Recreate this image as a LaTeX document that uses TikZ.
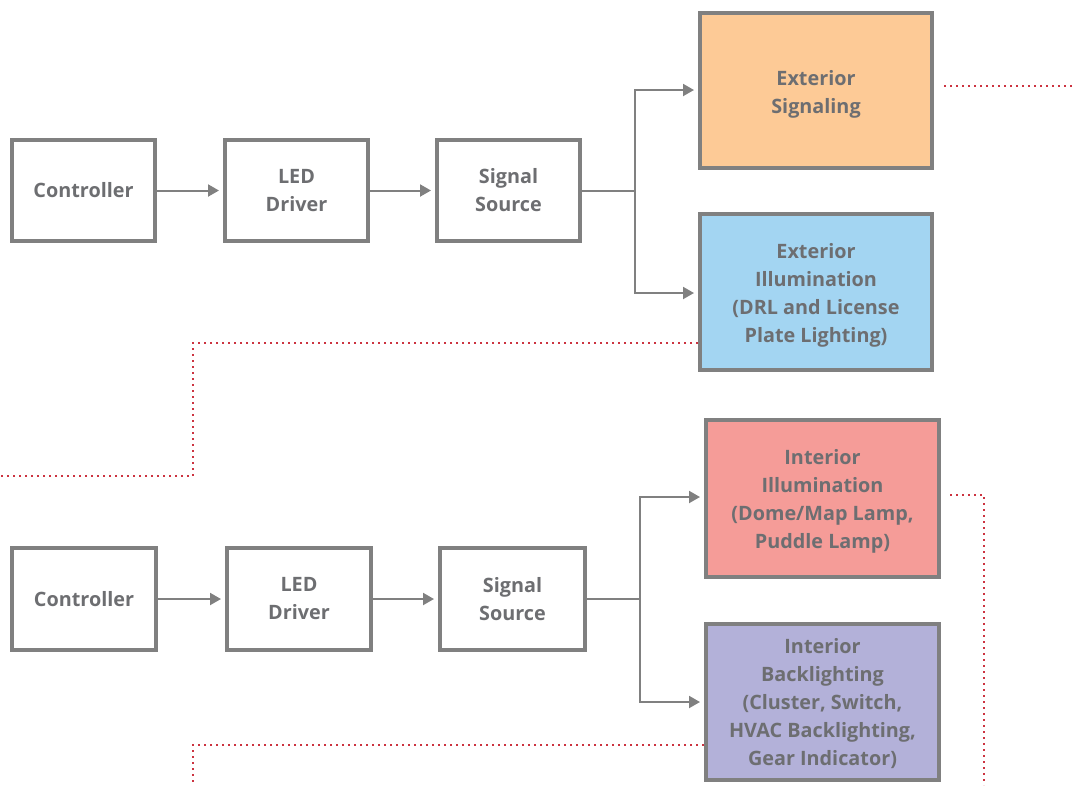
\documentclass[tikz,border=0pt]{standalone}
\usepackage{fontspec}
\setmainfont{Open Sans}
\usetikzlibrary{arrows.meta}
\definecolor{boxline}{HTML}{808080}
\definecolor{txt}{HTML}{6D6E71}
\definecolor{dotred}{HTML}{CC3340}
\definecolor{fOrange}{HTML}{FDCA96}
\definecolor{fBlue}{HTML}{A3D5F2}
\definecolor{fRed}{HTML}{F59C98}
\definecolor{fPurple}{HTML}{B3B1D9}
\tikzset{
  lbl/.style={align=center, text=txt,
    font=\fontsize{19.8}{28}\selectfont\bfseries, inner sep=0pt},
  blk/.style={lbl, draw=boxline, line width=4pt},
  conn/.style={draw=boxline, line width=2pt, -{Triangle[length=11pt,width=12pt]}},
  plain/.style={draw=boxline, line width=2pt},
  dotline/.style={draw=dotred, line width=2pt, dash pattern=on 2pt off 4pt}
}
\begin{document}
\begin{tikzpicture}[x=1pt,y=-1pt]
\useasboundingbox (0,0) rectangle (1075,785);
% top row
\node[blk, minimum width=143pt, minimum height=101pt] (c1) at (83.5,190.5) {Controller};
\node[blk, minimum width=143pt, minimum height=101pt] (d1) at (296.5,190.5) {LED\\Driver};
\node[blk, minimum width=143pt, minimum height=101pt] (s1) at (508.5,190.5) {Signal\\Source};
\node[blk, fill=fOrange, minimum width=232pt, minimum height=155pt] (es) at (816,90.5) {};
\node[lbl] (es-t) at ([yshift=-4pt]es.center) {Exterior\\Signaling};
\node[blk, fill=fBlue, minimum width=232pt, minimum height=156pt] (ei) at (816,292) {};
\node[lbl] (ei-t) at ([yshift=-3.5pt]ei.center) {Exterior\\Illumination\\(DRL and License\\Plate Lighting)};
% bottom row
\node[blk, minimum width=144pt, minimum height=102pt] (c2) at (84,599) {Controller};
\node[blk, minimum width=144pt, minimum height=102pt] (d2) at (299,599) {LED\\Driver};
\node[blk, minimum width=145pt, minimum height=102pt] (s2) at (512.5,599) {Signal\\Source};
\node[blk, fill=fRed, minimum width=233pt, minimum height=157pt] (ii) at (822.5,498.5) {};
\node[lbl] (ii-t) at ([yshift=-2.5pt]ii.center) {Interior\\Illumination\\(Dome/Map Lamp,\\Puddle Lamp)};
\node[blk, fill=fPurple, minimum width=233pt, minimum height=156pt] (ib) at (822.5,702) {};
\node[lbl] (ib-t) at ([yshift=-2pt]ib.center) {Interior\\Backlighting\\(Cluster, Switch,\\HVAC Backlighting,\\Gear Indicator)};
% branch points
\path (s1.east -| 635,0) coordinate (b1);
\path (s2.east -| 640,0) coordinate (b2);
% connectors top
\draw[conn] (c1.east) -- ([xshift=-4pt]d1.west);
\draw[conn] (d1.east) -- ([xshift=-4pt]s1.west);
\draw[plain] (s1.east) -- (b1);
\draw[conn] (b1) |- ([xshift=-4pt]es.west |- 0,90);
\draw[conn] (b1) |- ([xshift=-4pt]ei.west |- 0,293);
% connectors bottom
\draw[conn] (c2.east) -- ([xshift=-4pt]d2.west);
\draw[conn] (d2.east) -- ([xshift=-4pt]s2.west);
\draw[plain] (s2.east) -- (b2);
\draw[conn] (b2) |- ([xshift=-4pt]ii.west |- 0,497);
\draw[conn] (b2) |- ([xshift=-4pt]ib.west |- 0,702);
% dotted lines
\coordinate (t1) at (1075,86);
\draw[dotline] ([xshift=10pt]es.east |- 0,86) -- (t1);
\coordinate (e1a) at (193,343);
\coordinate (e1b) at (193,476);
\coordinate (e1c) at (0,476);
\draw[dotline] (ei.west |- 0,343) -- (e1a) -- (e1b) -- (e1c);
\coordinate (e2a) at (984,495);
\coordinate (e2b) at (984,785);
\draw[dotline] ([xshift=9pt]ii.east |- 0,495) -- (e2a) -- (e2b);
\coordinate (e3a) at (193,745);
\coordinate (e3b) at (193,785);
\draw[dotline] (ib.west |- 0,745) -- (e3a) -- (e3b);
\end{tikzpicture}
\end{document}
